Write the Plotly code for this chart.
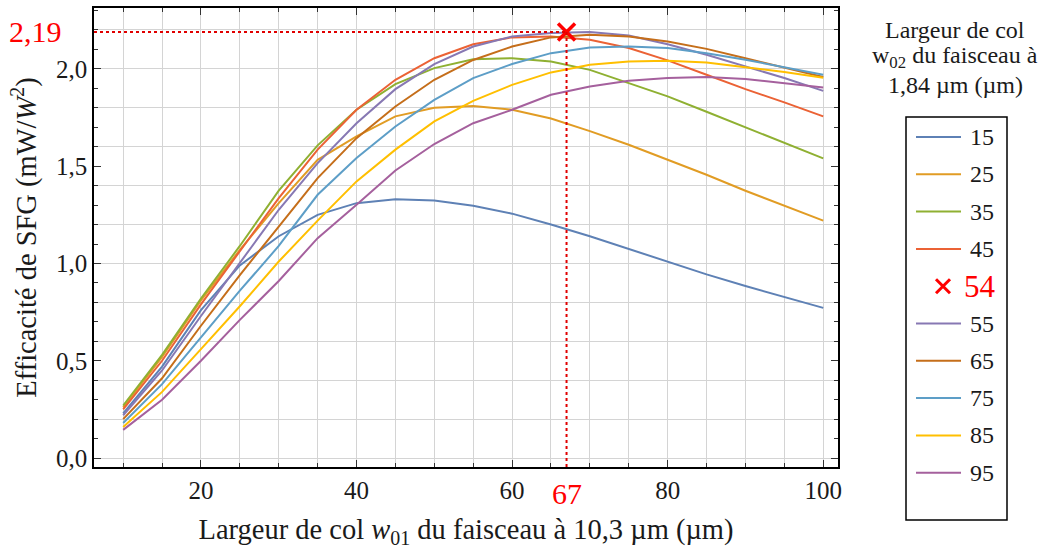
import plotly.graph_objects as go

# ---------------- data ----------------
w01 = [10, 15, 20, 25, 30, 35, 40, 45, 50, 55, 60, 65, 70, 75, 80, 85, 90, 95, 100]
w02 = [15, 25, 35, 45, 55, 65, 75, 85, 95]

eff_15 = [0.23, 0.47, 0.76, 0.99, 1.14, 1.25, 1.31, 1.33, 1.324, 1.297, 1.256, 1.20, 1.14, 1.075, 1.008, 0.944, 0.884, 0.826, 0.772]
eff_25 = [0.26, 0.52, 0.81, 1.07, 1.31, 1.533, 1.653, 1.756, 1.80, 1.809, 1.79, 1.745, 1.68, 1.61, 1.533, 1.456, 1.374, 1.297, 1.22]
eff_35 = [0.27, 0.53, 0.82, 1.09, 1.374, 1.607, 1.79, 1.922, 2.004, 2.05, 2.055, 2.038, 1.995, 1.927, 1.859, 1.78, 1.70, 1.62, 1.54]
eff_45 = [0.25, 0.50, 0.79, 1.06, 1.336, 1.585, 1.79, 1.944, 2.055, 2.127, 2.162, 2.167, 2.15, 2.107, 2.044, 1.97, 1.896, 1.828, 1.756]
eff_55 = [0.22, 0.45, 0.73, 1.00, 1.276, 1.516, 1.721, 1.896, 2.025, 2.115, 2.167, 2.185, 2.19, 2.172, 2.127, 2.073, 2.013, 1.953, 1.887]
eff_65 = [0.20, 0.41, 0.68, 0.94, 1.19, 1.439, 1.644, 1.807, 1.944, 2.046, 2.115, 2.162, 2.175, 2.167, 2.141, 2.103, 2.055, 2.008, 1.958]
eff_75 = [0.18, 0.38, 0.62, 0.86, 1.09, 1.353, 1.542, 1.704, 1.841, 1.953, 2.025, 2.081, 2.11, 2.115, 2.107, 2.081, 2.047, 2.008, 1.970]
eff_85 = [0.16, 0.34, 0.56, 0.78, 1.01, 1.22, 1.422, 1.585, 1.73, 1.836, 1.918, 1.982, 2.021, 2.038, 2.042, 2.033, 2.008, 1.984, 1.954]
eff_95 = [0.145, 0.30, 0.50, 0.71, 0.91, 1.13, 1.302, 1.478, 1.614, 1.721, 1.79, 1.867, 1.91, 1.939, 1.953, 1.958, 1.948, 1.927, 1.905]

series = [eff_15, eff_25, eff_35, eff_45, eff_55, eff_65, eff_75, eff_85, eff_95]
colors = ["#5E81B5", "#E19C24", "#8FB032", "#EB6235", "#8778B3",
          "#C56E1A", "#5D9EC7", "#FFBF00", "#A5609D"]

opt_w02 = 54
opt_w01 = 67
opt_eff = 2.19

x_range = [6.25, 101.9]
y_range = [-0.046, 2.313]

legend_title_lines = ["Largeur de col", "w<sub>02</sub> du faisceau à", "1,84 µm (µm)"]

# ---------------- layout geometry ----------------
W, H = 1043, 550
L, R, T, B = 94, 838, 8, 467  # plot area in pixels
FONT = "Liberation Serif"
TXT = "#1a1a1a"


def px2x(px):
    return (px - L) / (R - L)


def py2y(py):
    return (B - py) / (B - T)


fig = go.Figure()

for vals, c, name in zip(series, colors, w02):
    fig.add_trace(go.Scatter(x=w01, y=vals, mode="lines", name=str(name),
                             line=dict(color=c, width=2), showlegend=False))

# empty trace to register overlay axis for the 0.2 grid
fig.add_trace(go.Scatter(x=[], y=[], yaxis="y2", showlegend=False))

# optimum marker
fig.add_trace(go.Scatter(x=[opt_w01], y=[opt_eff], mode="markers", showlegend=False,
                         marker=dict(symbol="x-thin", size=17,
                                     line=dict(color="#FF0000", width=3.5),
                                     color="#FF0000"),
                         cliponaxis=False))

shapes = []
# dotted guide lines
shapes.append(dict(type="line", xref="x", yref="y", x0=x_range[0], x1=opt_w01,
                   y0=opt_eff, y1=opt_eff, line=dict(color="#E00000", width=2, dash="dot")))
shapes.append(dict(type="line", xref="x", yref="y", x0=opt_w01, x1=opt_w01,
                   y0=y_range[0], y1=opt_eff, line=dict(color="#E00000", width=2, dash="dot")))

annotations = []
annotations.append(dict(xref="paper", yref="y", x=px2x(64), y=opt_eff, xanchor="right",
                        yanchor="middle", showarrow=False,
                        text=f"{opt_eff:.2f}".replace(".", ","),
                        font=dict(family=FONT, size=30, color="#FF0000")))
annotations.append(dict(xref="x", yref="paper", x=opt_w01, y=py2y(493), xanchor="center",
                        yanchor="middle", showarrow=False, text=str(opt_w01),
                        font=dict(family=FONT, size=30, color="#FF0000")))

# ---------------- manual legend ----------------
for i, line in enumerate(legend_title_lines):
    annotations.append(dict(xref="paper", yref="paper", x=px2x(955), y=py2y(30 + i * 27.5),
                            xanchor="center", yanchor="middle", showarrow=False,
                            text=line, font=dict(family=FONT, size=24, color=TXT)))
shapes.append(dict(type="rect", xref="paper", yref="paper",
                   x0=px2x(906), x1=px2x(1007), y0=py2y(520), y1=py2y(117),
                   line=dict(color="black", width=1.5), fillcolor="rgba(0,0,0,0)"))

entries = [(str(v), c) for v, c in zip(w02[:4], colors[:4])] + [(str(opt_w02), None)] + \
          [(str(v), c) for v, c in zip(w02[4:], colors[4:])]
for i, (lab, c) in enumerate(entries):
    yy = 137 + i * 37.3
    if c is not None:
        shapes.append(dict(type="line", xref="paper", yref="paper",
                           x0=px2x(916), x1=px2x(961), y0=py2y(yy), y1=py2y(yy),
                           line=dict(color=c, width=2)))
        annotations.append(dict(xref="paper", yref="paper", x=px2x(996), y=py2y(yy),
                                xanchor="right", yanchor="middle", showarrow=False,
                                text=lab, font=dict(family=FONT, size=24, color=TXT)))
    else:
        for (a, b_), (c_, d) in [((936, yy - 7), (950, yy + 7)), ((936, yy + 7), (950, yy - 7))]:
            shapes.append(dict(type="line", xref="paper", yref="paper",
                               x0=px2x(a), x1=px2x(c_), y0=py2y(b_), y1=py2y(d),
                               line=dict(color="#FF0000", width=3)))
        annotations.append(dict(xref="paper", yref="paper", x=px2x(998), y=py2y(yy),
                                xanchor="right", yanchor="middle", showarrow=False,
                                text=lab, font=dict(family=FONT, size=31, color="#FF0000")))

grid_col = "#D4D4D4"
tick_col = "#333333"

fig.update_layout(
    width=W, height=H,
    margin=dict(l=L, r=W - R, t=T, b=H - B, autoexpand=False),
    paper_bgcolor="white", plot_bgcolor="white",
    separators=", ",
    font=dict(family=FONT, size=25, color=TXT),
    shapes=shapes, annotations=annotations,
    hovermode=False,
    xaxis=dict(range=x_range, tick0=0, dtick=20, ticks="inside", ticklen=7, tickwidth=1,
               tickcolor=tick_col, showline=True, linecolor="black", linewidth=1.5,
               mirror="ticks", showgrid=True, gridcolor=grid_col, gridwidth=1, zeroline=False,
               tickfont=dict(family=FONT, size=25, color=TXT),
               minor=dict(dtick=5, tick0=0, ticks="inside", ticklen=4, tickcolor=tick_col,
                          showgrid=True, gridcolor=grid_col, gridwidth=1),
               title=dict(text="Largeur de col <i>w</i><sub>01</sub> du faisceau à 10,3 µm (µm)",
                          font=dict(family=FONT, size=28.5, color=TXT), standoff=16)),
    yaxis=dict(range=y_range, tick0=0, dtick=0.5, tickformat=".1f", ticks="inside", ticklen=7,
               tickwidth=1, tickcolor=tick_col, showline=True, linecolor="black", linewidth=1.5,
               mirror="ticks", showgrid=False, zeroline=False,
               tickfont=dict(family=FONT, size=25, color=TXT),
               minor=dict(dtick=0.1, tick0=0, ticks="inside", ticklen=4, tickcolor=tick_col,
                          showgrid=False),
               title=dict(text="Efficacité de SFG (mW/<i>W</i><sup>2</sup>)",
                          font=dict(family=FONT, size=28.5, color=TXT), standoff=11)),
    yaxis2=dict(range=y_range, overlaying="y", tick0=0, dtick=0.2, showgrid=True,
                gridcolor=grid_col, gridwidth=1, showticklabels=False, ticks="",
                showline=False, zeroline=False),
)

fig.write_html("out.html", config={"displayModeBar": False},
               post_script="document.body.style.margin='0';document.body.style.padding='0';")
